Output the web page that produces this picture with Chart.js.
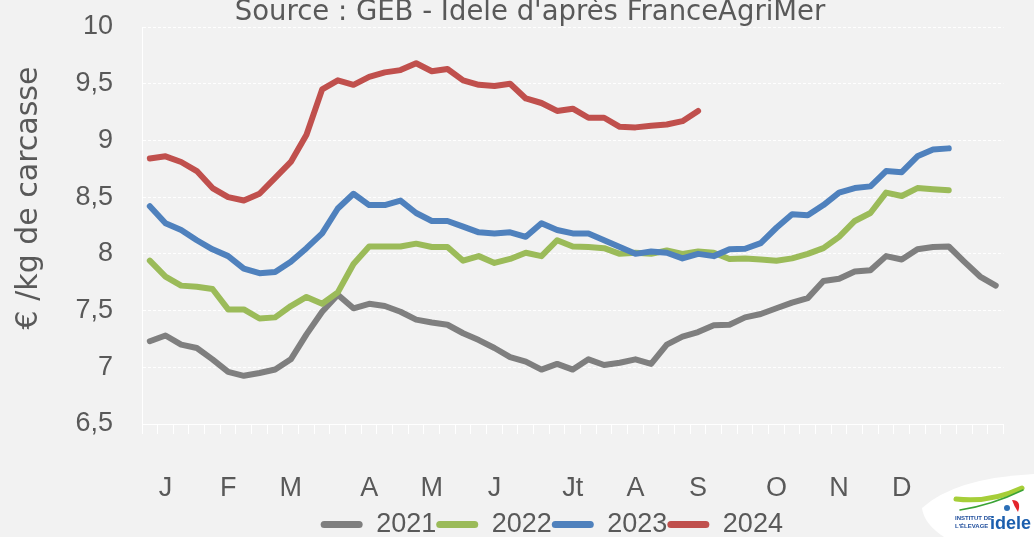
<!DOCTYPE html>
<html>
<head>
<meta charset="utf-8">
<script src="https://cdn.jsdelivr.net/npm/chart.js@4"></script>
<style>
  html, body { margin: 0; padding: 0; background: #f2f2f2; }
</style>
</head>
<body>
<canvas id="prices" width="1034" height="537"></canvas>
<script>
// Weekly categories, month letters on the week where they start
const weekLabels = [
  '', 'J', '', '', '', 'F', '', '', '', 'M', '', '', '', '',
  'A', '', '', '', 'M', '', '', '', 'J', '', '', '', '',
  'Jt', '', '', '', 'A', '', '', '', 'S', '', '', '', '',
  'O', '', '', '', 'N', '', '', '', 'D', '', '', '', '', '', ''
];

const seriesNames = ['2021', '2022', '2023', '2024'];

const price2021 = [
  7.23, 7.28, 7.20, 7.17, 7.07, 6.96, 6.925, 6.95, 6.98, 7.07, 7.29, 7.49, 7.64, 7.52,
  7.56, 7.54, 7.49, 7.42, 7.395, 7.375, 7.30, 7.24, 7.17, 7.09, 7.05, 6.98, 7.03,
  6.98, 7.07, 7.02, 7.04, 7.07, 7.03, 7.20, 7.27, 7.31, 7.37, 7.375, 7.44, 7.47, 7.52,
  7.57, 7.61, 7.76, 7.78, 7.845, 7.855, 7.98, 7.95, 8.04, 8.06, 8.065, 7.93, 7.80, 7.72
];
const price2022 = [
  7.94, 7.80, 7.72, 7.71, 7.69, 7.51, 7.51, 7.43, 7.44, 7.54, 7.62, 7.56, 7.66, 7.91,
  8.065, 8.065, 8.065, 8.09, 8.06, 8.06, 7.94, 7.98, 7.92, 7.955, 8.01, 7.98, 8.12,
  8.065, 8.06, 8.05, 8.00, 8.01, 8.00, 8.03, 8.00, 8.02, 8.01, 7.955, 7.96, 7.95, 7.94,
  7.96, 8.00, 8.05, 8.15, 8.29, 8.36, 8.54, 8.51, 8.58, 8.57, 8.56
];
const price2023 = [
  8.42, 8.27, 8.21, 8.12, 8.04, 7.98, 7.87, 7.83, 7.84, 7.93, 8.05, 8.18, 8.40, 8.53,
  8.43, 8.43, 8.47, 8.36, 8.29, 8.29, 8.24, 8.19, 8.18, 8.19, 8.15, 8.27, 8.21,
  8.18, 8.18, 8.12, 8.06, 8.00, 8.02, 8.01, 7.96, 8.00, 7.98, 8.04, 8.045, 8.095, 8.23,
  8.35, 8.34, 8.43, 8.54, 8.58, 8.595, 8.73, 8.72, 8.86, 8.92, 8.93
];
const price2024 = [
  8.84, 8.86, 8.81, 8.73, 8.58, 8.50, 8.47, 8.53, 8.67, 8.81, 9.05, 9.45, 9.53, 9.49,
  9.56, 9.60, 9.62, 9.68, 9.61, 9.63, 9.53, 9.49, 9.48, 9.50, 9.37, 9.33, 9.26,
  9.28, 9.20, 9.20, 9.12, 9.115, 9.13, 9.14, 9.17, 9.26
];

const seriesValues = [price2021, price2022, price2023, price2024];
const seriesColors = ['#7f7f7f', '#9bbb59', '#4f81bd', '#c0504d'];

const textColor = '#595959';
const numberFont = 'Liberation Sans, Arial, sans-serif';
const wordFont = 'DejaVu Sans, sans-serif';

// grey page background
const background = {
  id: 'background',
  beforeDraw(chart) {
    const ctx = chart.ctx;
    ctx.save();
    ctx.fillStyle = '#f2f2f2';
    ctx.fillRect(0, 0, chart.width, chart.height);
    ctx.restore();
  }
};

// the legend in the original sits a little left of the plot centre
const legendShift = {
  id: 'legendShift',
  afterLayout(chart) {
    if (chart.legend) chart.legend.left -= 42;
  }
};

// source line on top and the unit on the left (both sit off-centre in the original)
const headings = {
  id: 'headings',
  afterDraw(chart) {
    const ctx = chart.ctx;
    ctx.save();
    ctx.fillStyle = textColor;
    ctx.textAlign = 'center';
    ctx.textBaseline = 'middle';
    ctx.font = '27.5px ' + wordFont;
    ctx.fillText("Source : GEB - Idele d'après FranceAgriMer", 530, 13);
    ctx.translate(29, 198);
    ctx.rotate(-Math.PI / 2);
    ctx.font = '30px ' + wordFont;
    ctx.fillText('€ /kg de carcasse', 0, 0);
    ctx.restore();
  }
};

// small institute badge in the corner
const badge = {
  id: 'badge',
  afterDraw(chart) {
    const ctx = chart.ctx;
    ctx.save();
    ctx.fillStyle = '#ffffff';
    ctx.beginPath();
    ctx.moveTo(922, 508);
    ctx.quadraticCurveTo(955, 478, 1034, 474);
    ctx.lineTo(1034, 537);
    ctx.lineTo(944, 537);
    ctx.quadraticCurveTo(924, 524, 922, 508);
    ctx.fill();

    ctx.lineCap = 'round';
    ctx.strokeStyle = '#a6ce39';
    ctx.lineWidth = 5;
    ctx.beginPath();
    ctx.moveTo(956, 499);
    ctx.quadraticCurveTo(990, 503, 1022, 488);
    ctx.stroke();
    ctx.strokeStyle = '#3aa335';
    ctx.lineWidth = 1.5;
    ctx.beginPath();
    ctx.moveTo(960, 510);
    ctx.quadraticCurveTo(992, 505, 1023, 490);
    ctx.stroke();

    ctx.fillStyle = '#e3242b';
    ctx.beginPath();
    ctx.moveTo(1012, 500);
    ctx.quadraticCurveTo(1022, 500, 1018, 512);
    ctx.quadraticCurveTo(1014, 506, 1012, 500);
    ctx.fill();
    ctx.fillStyle = '#2c6fb7';
    ctx.beginPath();
    ctx.arc(1007, 508, 3, 0, Math.PI * 2);
    ctx.fill();

    ctx.fillStyle = '#1f4e9c';
    ctx.font = 'bold 6px ' + numberFont;
    ctx.textAlign = 'left';
    ctx.textBaseline = 'alphabetic';
    ctx.fillText('INSTITUT DE', 955, 520);
    ctx.fillText("L'ÉLEVAGE", 955, 528);
    ctx.fillStyle = '#1c5fae';
    ctx.font = 'bold 18px ' + numberFont;
    ctx.fillText('idele', 990, 529);
    ctx.restore();
  }
};

const datasets = seriesValues.map((values, i) => ({
  label: seriesNames[i],
  data: values,
  borderColor: seriesColors[i],
  backgroundColor: seriesColors[i],
  borderWidth: 6,
  borderCapStyle: 'round',
  borderJoinStyle: 'round',
  pointRadius: 0,
  tension: 0,
  fill: false,
  order: seriesValues.length - i
}));

new Chart(document.getElementById('prices'), {
  type: 'line',
  data: { labels: weekLabels, datasets: datasets },
  options: {
    responsive: false,
    animation: false,
    layout: { padding: { top: 27, right: 28, left: 0, bottom: -11 } },
    plugins: {
      title: { display: false },
      tooltip: { enabled: false },
      legend: {
        position: 'bottom',
        fullSize: false,
        labels: {
          color: textColor,
          font: { family: numberFont, size: 27 },
          boxWidth: 42,
          boxHeight: 7,
          padding: 0,
          useBorderRadius: true,
          borderRadius: 3.5,
          sort: (a, b) => a.datasetIndex - b.datasetIndex,
          generateLabels(chart) {
            return Chart.defaults.plugins.legend.labels.generateLabels(chart)
              .map(item => ({ ...item, lineWidth: 0 }));
          }
        }
      }
    },
    scales: {
      x: {
        offset: true,
        grid: {
          offset: true,
          drawOnChartArea: false,
          drawTicks: true,
          tickLength: 10,
          color: '#ffffff'
        },
        border: { display: true, color: '#ffffff', width: 1 },
        ticks: {
          autoSkip: false,
          maxRotation: 0,
          minRotation: 0,
          padding: 38,
          color: textColor,
          font: { family: numberFont, size: 27 }
        },
        afterFit(scale) { scale.height = 87; }
      },
      y: {
        min: 6.5,
        max: 10,
        grid: {
          color: '#ffffff',
          lineWidth: 1,
          drawTicks: true,
          tickLength: 29,
          tickColor: 'rgba(0,0,0,0)'
        },
        border: { display: true, color: '#ffffff', width: 1, dash: [3, 2] },
        ticks: {
          stepSize: 0.5,
          padding: 0,
          color: textColor,
          font: { family: numberFont, size: 27 },
          callback: v => String(v).replace('.', ',')
        },
        title: { display: false },
        afterFit(scale) { scale.width = 142; }
      }
    }
  },
  plugins: [background, legendShift, headings, badge]
});
</script>
</body>
</html>
